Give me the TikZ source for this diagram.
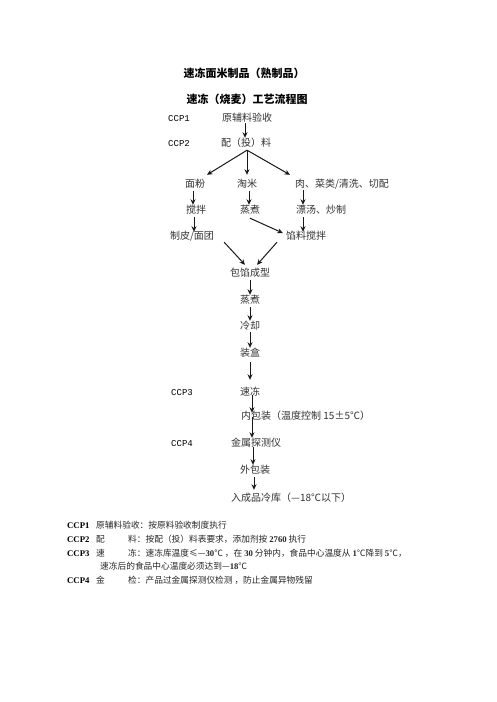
\documentclass[tikz,border=0pt]{standalone}
\usepackage{fontspec}
\setmainfont{Noto Sans CJK SC}
\newfontfamily\cjk{Noto Sans CJK SC}
\newfontfamily\ccpfont{Liberation Mono}
\newfontfamily\notelat{Liberation Serif}
\newcommand\nd[1]{{\notelat\bfseries #1}}
\usetikzlibrary{arrows.meta}
\tikzset{
  every node/.style={inner sep=0pt, text height=8pt, text depth=2pt},
  lbl/.style={font=\cjk\fontsize{10}{12}\selectfont, text=black!80},
  ccp/.style={font=\ccpfont\fontsize{9}{11}\selectfont, anchor=west},
  ttl/.style={font=\cjk\bfseries\fontsize{11}{13}\selectfont},
  note/.style={font=\cjk\fontsize{8.7}{10}\selectfont, anchor=west, text=black!85},
  ccpn/.style={font=\notelat\bfseries\fontsize{8.7}{10}\selectfont, anchor=west},
  arr/.style={draw=black!90, line width=1pt, -{Stealth[length=5.5pt,width=5pt]}},
}
\begin{document}
\begin{tikzpicture}[x=1pt,y=-1pt]
\useasboundingbox (0,0) rectangle (496,702);
\fill[white] (0,0) rectangle (496,702);
% titles
\node[ttl] (t1) at (244,74) {速冻面米制品（熟制品）};
\node[ttl] (t2) at (247,100) {速冻（烧麦）工艺流程图};
% flow
\node[ccp] (ccp1) at (168,118) {CCP1};
\node[lbl] (n1) at (247,118) {原辅料验收};
\node[ccp] (ccp2) at (168,143) {CCP2};
\node[lbl] (n2) at (246,143) {配（投）料};
\node[lbl] (a) at (195,184) {面粉};
\node[lbl] (b) at (247,184) {淘米};
\node[lbl] (c) at (342,184) {肉、菜类/清洗、切配};
\node[lbl] (a2) at (196,210) {搅拌};
\node[lbl] (b2) at (250,210) {蒸煮};
\node[lbl] (c2) at (321,210) {漂汤、炒制};
\node[lbl] (a3) at (192,236) {制皮/面团};
\node[lbl] (c3) at (306,236) {馅料搅拌};
\node[lbl] (m1) at (250,273) {包馅成型};
\node[lbl] (m2) at (250,300) {蒸煮};
\node[lbl] (m3) at (250,326) {冷却};
\node[lbl] (m4) at (250,353) {装盒};
\node[ccp] (ccp3) at (171,392) {CCP3};
\node[lbl] (m5) at (250,392) {速冻};
\node[lbl, anchor=west] (m6) at (241,416) {内包装（温度控制 15±5℃）};
\node[ccp] (ccp4) at (171,443) {CCP4};
\node[lbl] (m7) at (256,443) {金属探测仪};
\node[lbl] (m8) at (255,470) {外包装};
\node[lbl, anchor=west] (m9) at (231,498) {入成品冷库（—18℃以下）};
% connectors
\draw[arr] ([xshift=-2]n1.south) -- ([xshift=-1]n2.north);
\draw[arr] ([xshift=1,yshift=-2]n2.south) -- ([xshift=12,yshift=4]a.north);
\draw[arr] ([xshift=1,yshift=-2]n2.south) -- ([yshift=4]b.north);
\draw[arr] ([xshift=1,yshift=-2]n2.south) -- ([xshift=-52,yshift=4]c.north);
\draw[arr] ([xshift=-2,yshift=-2]a.south) -- ([xshift=-3]a2.north);
\draw[arr] ([xshift=-2,yshift=-2]a2.south) -- ([xshift=2,yshift=-1]a3.north);
\draw[arr] ([xshift=2,yshift=-2]b.south) -- ([xshift=-1]b2.north);
\draw[arr] ([yshift=-3]b2.south) -- ([xshift=-3,yshift=3]c3.west);
\draw[arr] ([xshift=-39,yshift=-1]c.south) -- ([xshift=-18]c2.north);
\draw[arr] ([xshift=-18,yshift=-2]c2.south) -- ([xshift=-3,yshift=-1]c3.north);
\draw[arr] ([xshift=10,yshift=-1]a3.south east) -- ([xshift=-5,yshift=3]m1.north);
\draw[arr] ([xshift=-29,yshift=-1]c3.south) -- ([xshift=7,yshift=3]m1.north);
\draw[arr] ([yshift=-2]m1.south) -- (m2.north);
\draw[arr] ([yshift=-2]m2.south) -- (m3.north);
\draw[arr] ([yshift=-1]m3.south) -- (m4.north);
\draw[arr] ([yshift=-4]m4.south) -- ([yshift=7]m5.north);
\draw[arr] ([xshift=2,yshift=2]m5.south) -- ([xshift=11,yshift=-2]m6.north west);
\draw[arr] ([xshift=11,yshift=4]m6.south west) -- ([xshift=-4]m7.north);
\draw[arr] ([xshift=-3,yshift=1]m7.south) -- ([xshift=-2]m8.north);
\draw[arr] ([xshift=-1,yshift=-2]m8.south) -- ([xshift=23,yshift=3]m9.north west);
% notes
\node[ccpn] (p1) at (67,525) {CCP1};
\node[note] (q1) at (96,525) {原辅料验收：按原料验收制度执行};
\node[ccpn] (p2) at (67,539) {CCP2};
\node[note] (q2a) at (96,539) {配};
\node[note] (q2b) at (128,539) {料：按配（投）料表要求，添加剂按 \nd{2760} 执行};
\node[ccpn] (p3) at (67,553) {CCP3};
\node[note] (q3a) at (96,553) {速};
\node[note] (q3b) at (128,553) {冻：速冻库温度≤—\nd{30}℃ ，在 \nd{30} 分钟内，食品中心温度从 \nd{1}℃降到 \nd{5}℃，};
\node[note] (q4) at (100,566) {速冻后的食品中心温度必须达到—\nd{18}℃};
\node[ccpn] (p4) at (67,580) {CCP4};
\node[note] (q5a) at (96,580) {金};
\node[note] (q5b) at (128,580) {检：产品过金属探测仪检测 ，防止金属异物残留};
\end{tikzpicture}
\end{document}
